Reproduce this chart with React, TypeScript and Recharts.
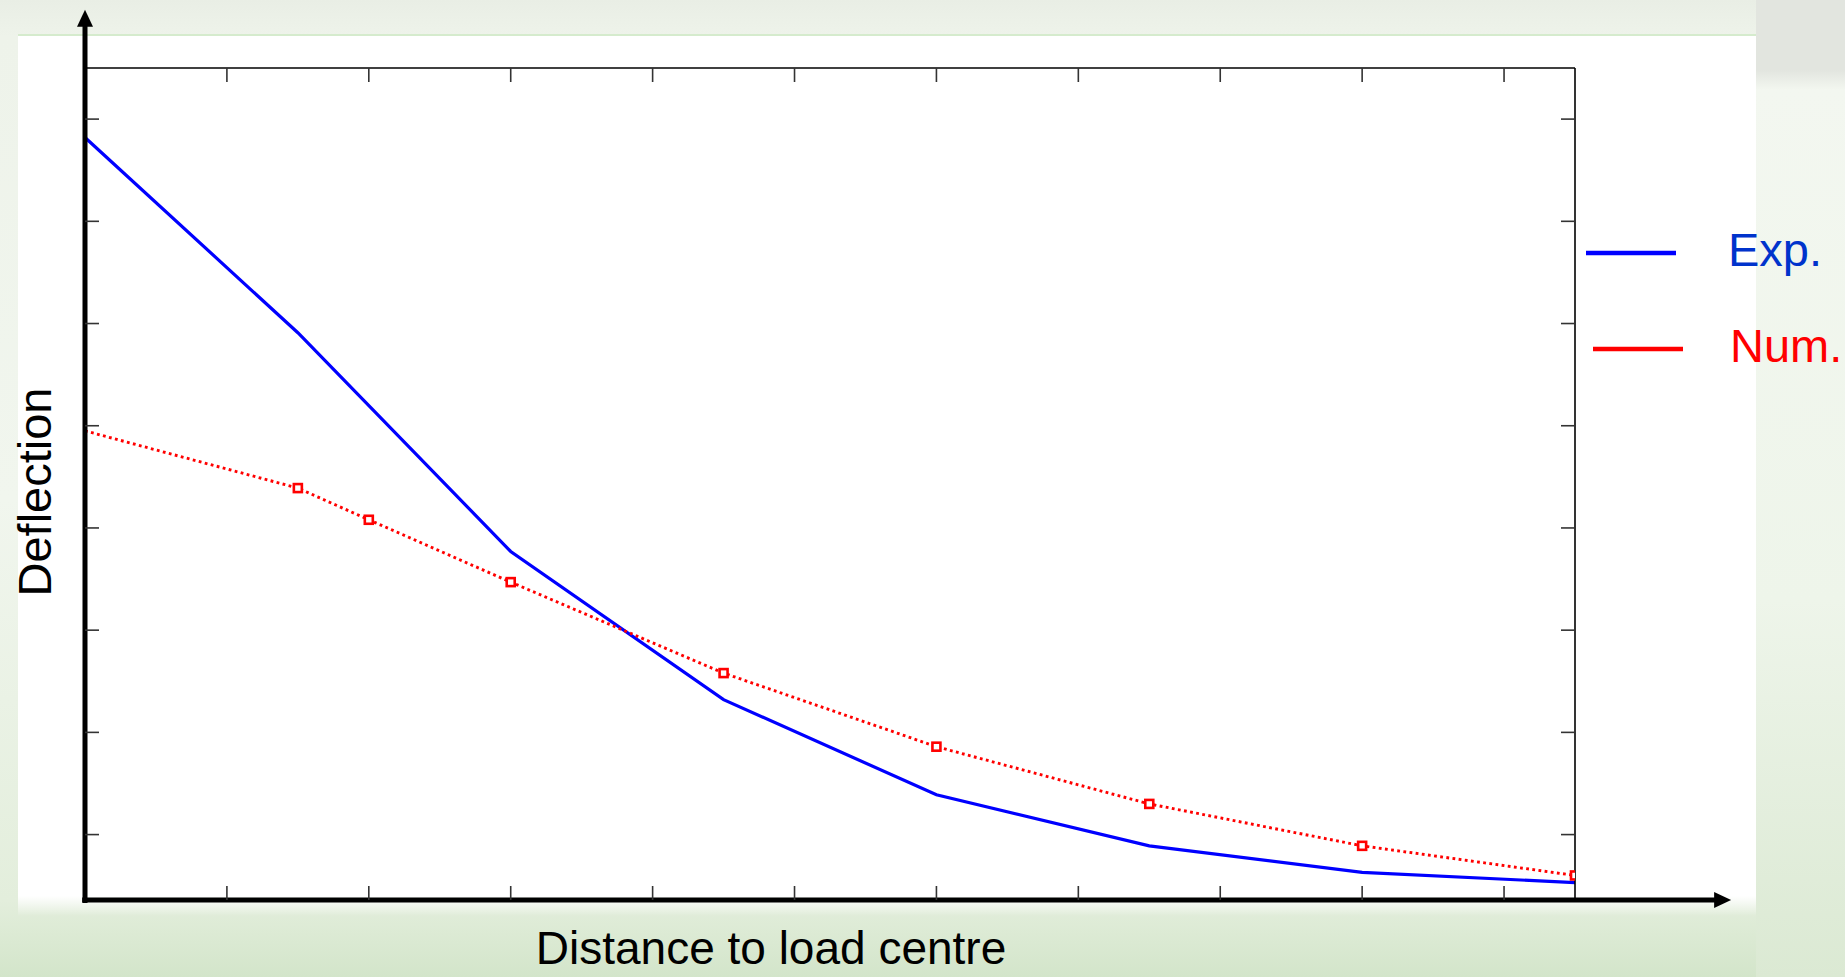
import React from 'react';
import { LineChart, Line, XAxis, YAxis, ReferenceLine, Legend, Label } from 'recharts';

// Distance to load centre (tick spacing = 1 unit)
const distances = [0, 1.5, 2, 3, 4.5, 6, 7.5, 9, 10.5];
// Experimental deflection (no reading at 2)
const expValues: (number | null)[] = [7.82, 5.91, null, 3.77, 2.32, 1.39, 0.89, 0.63, 0.53];
// Numerical deflection
const numValues = [4.95, 4.39, 4.08, 3.47, 2.58, 1.86, 1.3, 0.89, 0.6];

const xTicks = [1, 2, 3, 4, 5, 6, 7, 8, 9, 10];
const yTicks = [1, 2, 3, 4, 5, 6, 7, 8];
const xDomain: [number, number] = [0, 10.5];
const yDomain: [number, number] = [0.36, 8.5];

const data = distances.map((x, i) => ({ x, exp: expValues[i], num: numValues[i] }));

const FONT = 'Arial, "Liberation Sans", Helvetica, sans-serif';

const Arrow = (props: any) => {
  const { x1, y1, x2, y2 } = props;
  const dx = x2 - x1;
  const dy = y2 - y1;
  const len = Math.sqrt(dx * dx + dy * dy) || 1;
  const ux = dx / len;
  const uy = dy / len;
  const headLen = 17;
  const halfW = 8;
  const bx = x2 - ux * headLen;
  const by = y2 - uy * headLen;
  const px = -uy;
  const py = ux;
  return (
    <g>
      <line x1={x1} y1={y1} x2={bx + ux * 1} y2={by + uy * 1} stroke="#000" strokeWidth={5} />
      <polygon
        points={`${x2},${y2} ${bx + px * halfW},${by + py * halfW} ${bx - px * halfW},${by - py * halfW}`}
        fill="#000"
      />
    </g>
  );
};

const SquareDot = (p: any) => {
  if (p.index === 0 || p.cx == null || p.cy == null) return <g key={`d${p.index}`} />;
  return (
    <rect
      key={`d${p.index}`}
      x={p.cx - 4}
      y={p.cy - 4}
      width={8}
      height={8}
      fill="#ffffff"
      stroke="#ff0000"
      strokeWidth={2.6}
    />
  );
};

const LegendContent = (props: any) => {
  const payload = props.payload || [];
  const textColor: Record<string, string> = { 'Exp.': '#0033cc', 'Num.': '#ff0000' };
  const rows = [
    { lx1: 6, lx2: 96, ly: 53, tx: 148, ty: 66 },
    { lx1: 13, lx2: 103, ly: 149, tx: 150, ty: 162 },
  ];
  return (
    <svg width={270} height={200} style={{ overflow: 'visible', position: 'absolute', left: 0, top: 0 }}>
      {payload.map((entry: any, i: number) => {
        const r = rows[i] || rows[0];
        return (
          <g key={entry.value}>
            <line x1={r.lx1} y1={r.ly} x2={r.lx2} y2={r.ly} stroke={entry.color} strokeWidth={4.5} />
            <text x={r.tx} y={r.ty} fill={textColor[entry.value] || entry.color} fontSize={47} fontFamily={FONT}>
              {entry.value}
            </text>
          </g>
        );
      })}
    </svg>
  );
};

export default function App() {
  return (
    <div
      style={{
        position: 'absolute',
        left: 0,
        top: 0,
        width: 1845,
        height: 977,
        overflow: 'hidden',
        background: 'linear-gradient(180deg, #e9eee5 0px, #eef3ea 36px, #f1f6ee 500px, #e3eedc 900px, #d3e5ca 977px)',
      }}
    >
      {/* right strip */}
      <div
        style={{
          position: 'absolute',
          left: 1756,
          top: 0,
          width: 89,
          height: 977,
          background: 'linear-gradient(180deg, #e2e5df 0px, #e2e5df 70px, #f3f7f0 90px, #eef5ea 600px, #dbe9d3 977px)',
        }}
      />
      {/* thin green line at top of white panel */}
      <div style={{ position: 'absolute', left: 18, top: 34, width: 1738, height: 2, background: '#d5ebcd' }} />
      {/* white panel */}
      <div
        style={{
          position: 'absolute',
          left: 18,
          top: 36,
          width: 1738,
          height: 880,
          background: 'linear-gradient(180deg, #ffffff 0px, #ffffff 860px, rgba(255,255,255,0) 880px)',
        }}
      />
      <div style={{ position: 'absolute', left: 0, top: 0 }}>
        <LineChart
          width={1845}
          height={977}
          data={data}
          margin={{ top: 68, right: 270, bottom: 77, left: 85 }}
        >
          <XAxis
            xAxisId="b"
            dataKey="x"
            type="number"
            domain={xDomain}
            ticks={xTicks}
            orientation="bottom"
            mirror
            tickSize={14}
            axisLine={false}
            tickLine={{ stroke: '#333', strokeWidth: 1.6 }}
            tickFormatter={() => ''}
            allowDataOverflow
          >
            <Label
              content={() => (
                <text x={771} y={964} textAnchor="middle" fontSize={46} fontFamily={FONT} fill="#000">
                  Distance to load centre
                </text>
              )}
            />
          </XAxis>
          <XAxis
            xAxisId="t"
            dataKey="x"
            type="number"
            domain={xDomain}
            ticks={xTicks}
            orientation="top"
            mirror
            tickSize={14}
            axisLine={{ stroke: '#000', strokeWidth: 1.6 }}
            tickLine={{ stroke: '#333', strokeWidth: 1.6 }}
            tickFormatter={() => ''}
            allowDataOverflow
          />
          <YAxis
            yAxisId="l"
            type="number"
            domain={yDomain}
            ticks={yTicks}
            orientation="left"
            mirror
            tickSize={14}
            axisLine={false}
            tickLine={{ stroke: '#333', strokeWidth: 1.6 }}
            tickFormatter={() => ''}
            allowDataOverflow
          >
            <Label
              content={() => (
                <text
                  x={51}
                  y={492}
                  textAnchor="middle"
                  fontSize={47}
                  fontFamily={FONT}
                  fill="#000"
                  transform="rotate(-90, 51, 492)"
                >
                  Deflection
                </text>
              )}
            />
          </YAxis>
          <YAxis
            yAxisId="r"
            type="number"
            domain={yDomain}
            ticks={yTicks}
            orientation="right"
            mirror
            tickSize={14}
            axisLine={{ stroke: '#000', strokeWidth: 1.6 }}
            tickLine={{ stroke: '#333', strokeWidth: 1.6 }}
            tickFormatter={() => ''}
            allowDataOverflow
          />
          <Line
            xAxisId="b"
            yAxisId="l"
            dataKey="exp"
            name="Exp."
            stroke="#0000ff"
            strokeWidth={3.2}
            dot={false}
            connectNulls
            isAnimationActive={false}
          />
          <Line
            xAxisId="b"
            yAxisId="l"
            dataKey="num"
            name="Num."
            stroke="#ff0000"
            strokeWidth={2.9}
            strokeDasharray="2.8 3.4"
            dot={SquareDot}
            isAnimationActive={false}
          />
          <ReferenceLine
            xAxisId="b"
            yAxisId="l"
            segment={[{ x: 0, y: 0.33 }, { x: 0, y: 9.07 }]}
            ifOverflow="visible"
            shape={Arrow}
          />
          <ReferenceLine
            xAxisId="b"
            yAxisId="l"
            segment={[{ x: -0.02, y: 0.36 }, { x: 11.6, y: 0.36 }]}
            ifOverflow="visible"
            shape={Arrow}
          />
          <Legend
            content={LegendContent}
            wrapperStyle={{ left: 1580, top: 200, width: 0, height: 0, overflow: 'visible' }}
          />
        </LineChart>
      </div>
    </div>
  );
}
